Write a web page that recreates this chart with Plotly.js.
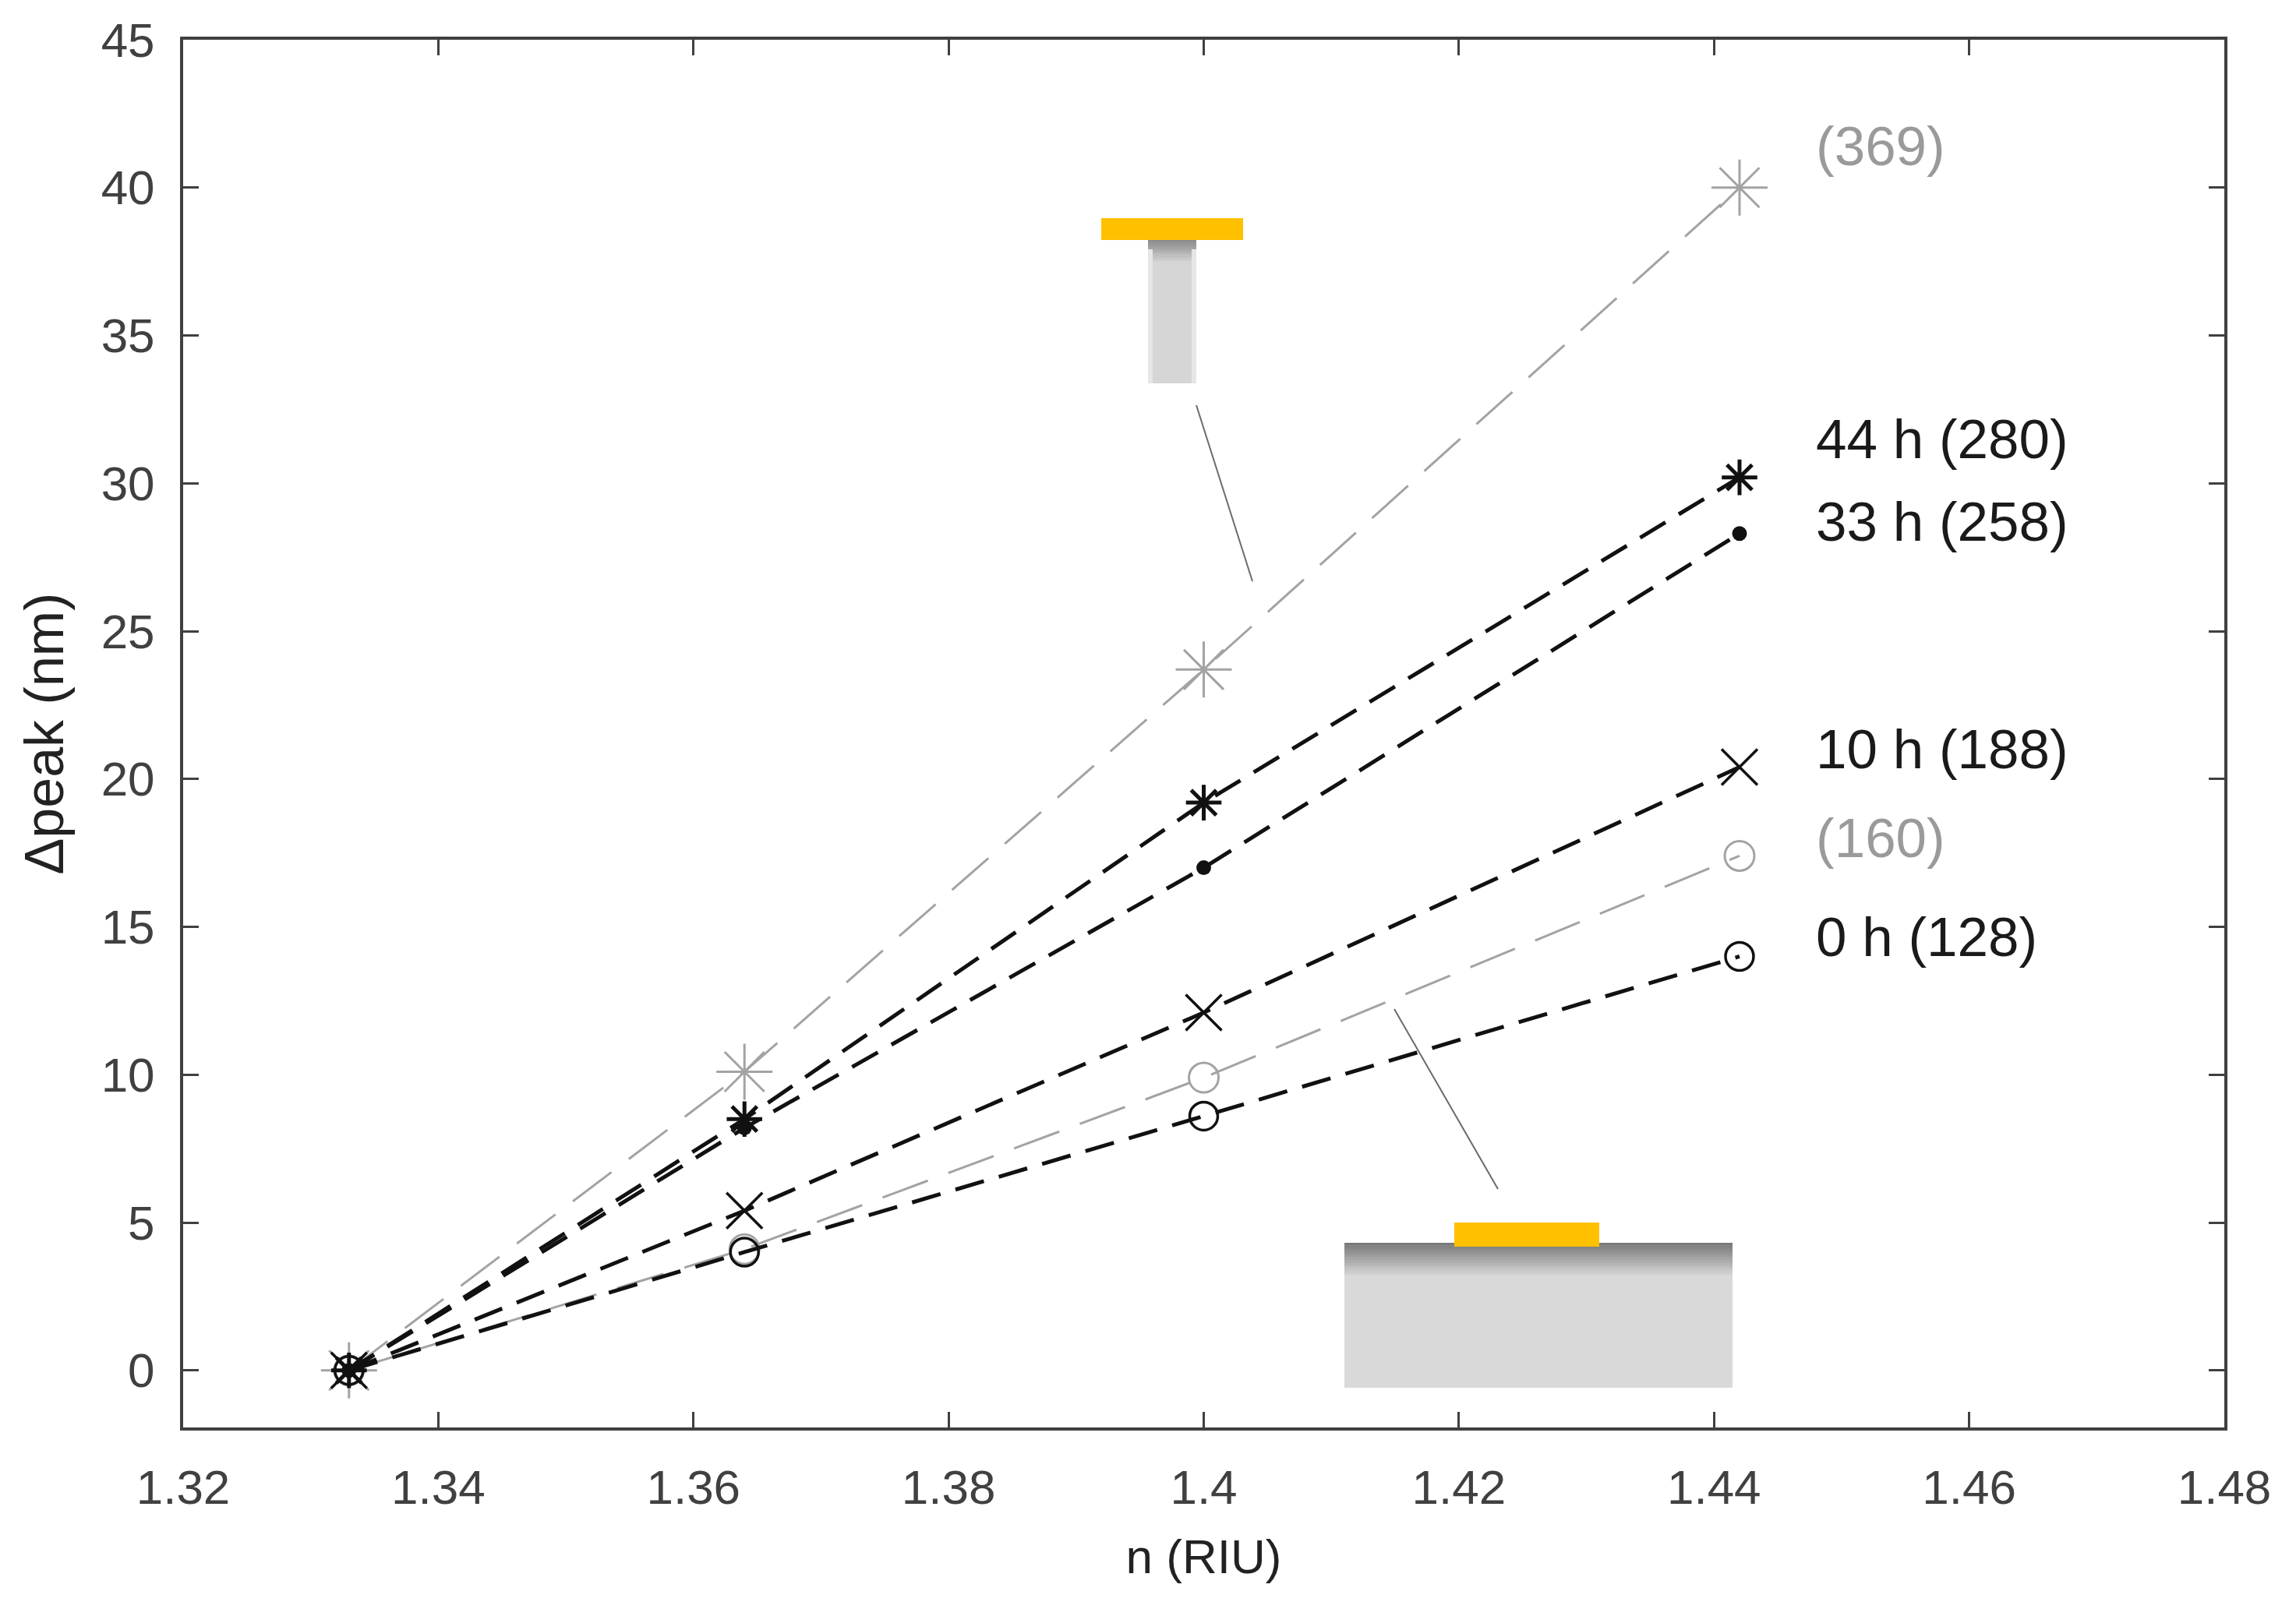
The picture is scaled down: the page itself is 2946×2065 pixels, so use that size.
<!DOCTYPE html>
<html>
<head>
<meta charset="utf-8">
<script src="https://cdn.plot.ly/plotly-3.0.1.min.js"></script>
<style>html,body{margin:0;padding:0;background:#fff;}#chart{width:2946px;height:2065px;}</style>
</head>
<body>
<div id="chart"></div>
<script>
// ---- data ----
const nRIU = [1.333, 1.364, 1.400, 1.442];
const peak369 = [0, 10.1, 23.7, 40.0];
const peak44h = [0, 8.5, 19.2, 30.2];
const peak33h = [0, 8.2, 17.0, 28.3];
const peak10h = [0, 5.4, 12.1, 20.4];
const peak160 = [0, 4.1, 9.9, 17.4];
const peak0h  = [0, 4.0, 8.6, 14.0];
const seriesLabels = ["(369)", "44 h (280)", "33 h (258)", "10 h (188)", "(160)", "0 h (128)"];
const xTickVals = [1.32, 1.34, 1.36, 1.38, 1.40, 1.42, 1.44, 1.46, 1.48];
const xTickText = ["1.32", "1.34", "1.36", "1.38", "1.4", "1.42", "1.44", "1.46", "1.48"];
const yTickVals = [0, 5, 10, 15, 20, 25, 30, 35, 40, 45];

// ---- styles ----
const GRAY = '#a3a3a3', BLACK = '#111111';
const W = 2946, H = 2065;
const M = {l: 235, r: 92, t: 51, b: 233};
const PW = W - M.l - M.r, PH = H - M.t - M.b;
const px = v => (v - M.l) / PW;        // image px -> paper x
const py = v => (H - M.b - v) / PH;    // image px -> paper y

const grayDash = '62px,28px';
const blackDash = '38px,20px';

function trace(y, color, dash, lw, symbol, msize, mlw) {
  return {
    x: nRIU, y: y, type: 'scatter', mode: 'lines+markers',
    line: {color: color, dash: dash, width: lw},
    marker: {symbol: symbol, size: msize, color: color,
             line: {color: color, width: mlw}},
    hoverinfo: 'skip', showlegend: false
  };
}

const data = [
  trace(peak369, GRAY, grayDash, 3, 'asterisk-open', 60, 3),
  trace(peak160, GRAY, grayDash, 3, 'circle-open', 38, 3),
  trace(peak0h, BLACK, blackDash, 5, 'circle-open', 36, 3.5),
  trace(peak10h, BLACK, blackDash, 5, 'x-thin-open', 46, 3.5),
  trace(peak33h, BLACK, blackDash, 5, 'circle', 19, 0),
  trace(peak44h, BLACK, blackDash, 5, 'asterisk-open', 38, 5)
];

const labelSeries = [peak369, peak44h, peak33h, peak10h, peak160, peak0h];
const labelColors = ['#9a9a9a', '#1a1a1a', '#1a1a1a', '#1a1a1a', '#9a9a9a', '#1a1a1a'];
const labelYShift = [53, 49, 15, 23, 23, 25];
const annotations = seriesLabels.map((t, i) => ({
  x: nRIU[nRIU.length - 1], y: labelSeries[i][labelSeries[i].length - 1],
  xref: 'x', yref: 'y', text: t, showarrow: false,
  xanchor: 'left', yanchor: 'middle', xshift: 96, yshift: labelYShift[i],
  font: {family: 'Liberation Sans, Arial, sans-serif', size: 71, color: labelColors[i]}
}));

// ---- inset drawings (shapes) ----
const shapes = [];
function rect(x0, y0, x1, y1, color) {
  shapes.push({type: 'rect', xref: 'paper', yref: 'paper', layer: 'above',
    x0: px(x0), x1: px(x1), y0: py(y1), y1: py(y0),
    fillcolor: color, line: {width: 0}});
}
function mix(a, b, t) {
  const h = c => [1,3,5].map(i => parseInt(c.substr(i,2),16));
  const A = h(a), B = h(b);
  return 'rgb(' + A.map((v,k) => Math.round(v + (B[k]-v)*t)).join(',') + ')';
}
function gradRect(x0, y0, x1, y1, gradH, cTop, cBody) {
  rect(x0, y0 + gradH, x1, y1, cBody);
  const n = 14;
  for (let i = 0; i < n; i++) {
    rect(x0, y0 + gradH*i/n, x1, y0 + gradH*(i+1)/n + 0.5, mix(cTop, cBody, i/(n-1)));
  }
}
// top inset (T)
gradRect(1473, 308, 1535, 492, 30, '#8a8a8a', '#d6d6d6');
rect(1473, 320, 1479, 492, '#e6e6e6');
rect(1529, 320, 1535, 492, '#e6e6e6');
rect(1413, 280, 1595, 308, '#FFC000');
// bottom inset (slab)
gradRect(1725, 1595, 2223, 1781, 45, '#7a7a7a', '#d9d9d9');
rect(1866, 1569, 2052, 1600, '#FFC000');
// connector lines
shapes.push({type: 'line', xref: 'paper', yref: 'paper', x0: px(1535), y0: py(520), x1: px(1607), y1: py(746), line: {color: '#6a6a6a', width: 2}});
shapes.push({type: 'line', xref: 'paper', yref: 'paper', x0: px(1789), y0: py(1295), x1: px(1922), y1: py(1526), line: {color: '#6a6a6a', width: 2}});

const axisCommon = {
  showline: true, linecolor: '#404040', linewidth: 4, mirror: 'ticks',
  ticks: 'inside', ticklen: 20, tickwidth: 3, tickcolor: '#404040',
  showgrid: false, zeroline: false,
  tickfont: {family: 'Liberation Sans, Arial, sans-serif', size: 62, color: '#404040'}
};

const layout = {
  width: W, height: H, margin: M,
  paper_bgcolor: '#ffffff', plot_bgcolor: '#ffffff',
  xaxis: Object.assign({}, axisCommon, {
    range: [1.32, 1.48], tickmode: 'array', tickvals: xTickVals, ticktext: xTickText,
    ticklabelstandoff: 20,
    title: {text: 'n (RIU)', standoff: 34,
      font: {family: 'Liberation Sans, Arial, sans-serif', size: 62, color: '#222222'}}
  }),
  yaxis: Object.assign({}, axisCommon, {
    range: [-1.93, 45], tickmode: 'array', tickvals: yTickVals,
    ticklabelstandoff: 20,
    title: {text: 'Δpeak (nm)', standoff: 26,
      font: {family: 'Liberation Sans, Arial, sans-serif', size: 70, color: '#222222'}}
  }),
  annotations: annotations,
  shapes: shapes
};

Plotly.newPlot('chart', data, layout, {staticPlot: true, displayModeBar: false});
</script>
</body>
</html>
